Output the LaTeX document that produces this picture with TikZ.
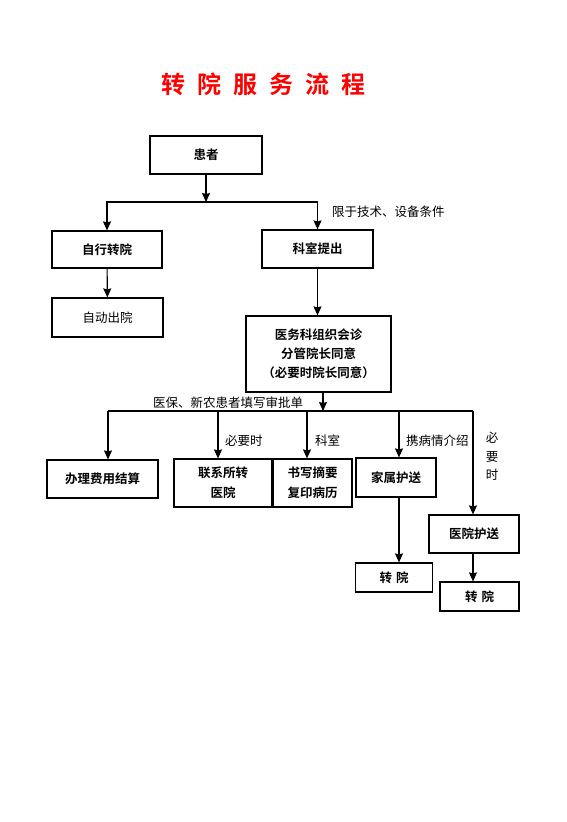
\documentclass[tikz,border=0pt]{standalone}
\usepackage{fontspec}
\setmainfont{Noto Sans CJK SC}
\newfontfamily\cjkbold{Noto Sans CJK SC Bold}
\usetikzlibrary{arrows.meta}
\tikzset{
  box/.style={draw, line width=1.2pt, inner sep=0pt, align=center,
    font=\cjkbold\fontsize{12.5}{20}\selectfont},
  plainbox/.style={box, font=\fontsize{12.5}{20}\selectfont},
  note/.style={inner sep=0pt, font=\fontsize{12.5}{18.5}\selectfont},
  arr/.style={line width=1.1pt, -{Stealth[length=9pt,width=8pt,inset=1pt]}},
  bus/.style={line width=1.1pt}
}
\begin{document}
\begin{tikzpicture}[x=1pt,y=-1pt]
    \useasboundingbox (0,0) rectangle (567,822);
    % title
    \node[text=red, font=\cjkbold\fontsize{24}{24}\selectfont] (title) at (263,84)
      {转\hspace{12pt}院\hspace{12pt}服\hspace{12pt}务\hspace{12pt}流\hspace{12pt}程};
    % boxes
    \node[box, minimum width=112pt, minimum height=38pt] (huanzhe) at (206,155) {患者};
    \node[box, minimum width=110pt, minimum height=37pt] (zixing) at (107,249.5) {自行转院};
    \node[box, minimum width=111pt, minimum height=38pt] (keshi) at (317.5,249) {科室提出};
    \node[plainbox, minimum width=111pt, minimum height=39pt] (zidong) at (107.5,317.5) {自动出院};
    \node[box, minimum width=145pt, minimum height=76pt, font=\cjkbold\fontsize{12.5}{19}\selectfont]
      (yiwu) at (318.5,354) {医务科组织会诊\\分管院长同意\\（必要时院长同意）};
    \node[box, minimum width=111pt, minimum height=38pt] (banli) at (102.5,479) {办理费用结算};
    \node[box, minimum width=98pt, minimum height=48pt] (lianxi) at (223,483) {联系所转\\医院};
    \node[box, minimum width=79pt, minimum height=48pt] (shuxie) at (312.5,483) {书写摘要\\复印病历};
    \node[box, minimum width=80pt, minimum height=39pt] (jiashu) at (396,477.5) {家属护送};
    \node[box, minimum width=90pt, minimum height=38pt] (yiyuan) at (474,534) {医院护送};
    \node[box, minimum width=77pt, minimum height=29pt] (zhuanA) at (394,577.5) {转\hspace{4pt}院};
    \node[box, minimum width=79pt, minimum height=29pt] (zhuanB) at (479.5,596.5) {转\hspace{4pt}院};
    % first split
    \coordinate (j1) at (206,202);
    \draw[arr] (huanzhe) -- (j1);
    \draw[arr] (j1) -| (zixing);
    \draw[arr] (j1) -| (keshi);
    \node[note, anchor=west] (xianyu) at (332,212) {限于技术、设备条件};
    \draw[arr] (zixing) -- (zidong);
    \draw[arr] (keshi) -- (keshi |- yiwu.north);
    % second split
    \coordinate (j2) at (323,411);
    \draw[arr] (yiwu.south -| j2) -- (j2);
    \node[note, anchor=west] (yibao) at (153,403) {医保、新农患者填写审批单};
    \coordinate (b1) at (108,411);
    \coordinate (b2) at (218,411);
    \coordinate (b3) at (307,411);
    \coordinate (b4) at (399,411);
    \coordinate (b5) at (473,411);
    \draw[bus] (b1) -- (b5);
    \draw[arr] (b1) -- (b1 |- banli.north);
    \draw[arr] (b2) -- (b2 |- lianxi.north);
    \draw[arr] (b3) -- (b3 |- shuxie.north);
    \draw[arr] (b4) -- (b4 |- jiashu.north);
    \draw[arr] (b5) -- (b5 |- yiyuan.north);
    \node[note, anchor=west] (biyao) at (225,441) {必要时};
    \node[note, anchor=west] (keshinote) at (315,441) {科室};
    \node[note, anchor=west] (xiebing) at (406,441) {携病情介绍};
    \node[note, anchor=north, align=center] (biyaoshi) at (492,432) {必\\要\\时};
    % last steps
    \draw[arr] (b4 |- jiashu.south) -- (b4 |- zhuanA.north);
    \draw[arr] (b5 |- yiyuan.south) -- (b5 |- zhuanB.north);
\end{tikzpicture}
\end{document}
